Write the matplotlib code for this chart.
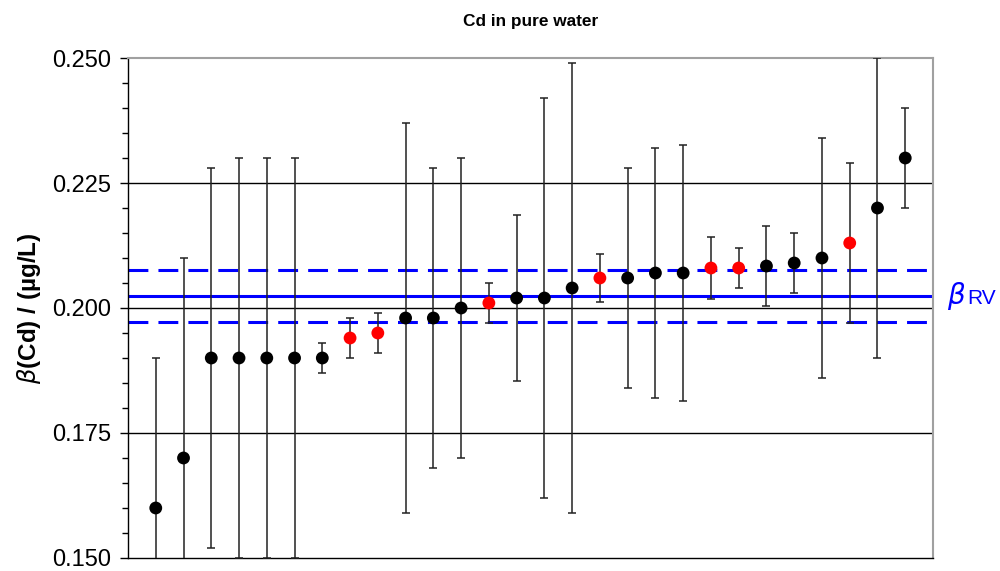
import matplotlib
matplotlib.use("Agg")
import matplotlib.pyplot as plt
from matplotlib.ticker import MultipleLocator, FormatStrFormatter

plt.rcParams['font.family'] = ['Liberation Sans', 'DejaVu Sans']

# Messwerte der Labore (sortiert) und erweiterte Unsicherheiten
values = [0.160, 0.170, 0.190, 0.190, 0.190, 0.190, 0.190, 0.194, 0.195, 0.198,
          0.198, 0.200, 0.201, 0.202, 0.202, 0.204, 0.206, 0.206, 0.207, 0.207,
          0.208, 0.208, 0.2084, 0.209, 0.210, 0.213, 0.220, 0.230]
uncert = [0.030, 0.040, 0.038, 0.040, 0.040, 0.040, 0.003, 0.004, 0.004, 0.039,
          0.030, 0.030, 0.004, 0.0166, 0.040, 0.045, 0.0048, 0.022, 0.025, 0.0257,
          0.0062, 0.004, 0.008, 0.006, 0.024, 0.016, 0.030, 0.010]
red_points = [8, 9, 13, 17, 21, 22, 26]  # 1-basierte Positionen der roten Punkte

ref_value = 0.2024
ref_uncert = 0.0052

fig = plt.figure(figsize=(10, 5.71), dpi=100)
ax = fig.add_axes([0.128, 0.0228, 0.805, 0.8756])

x = list(range(1, len(values) + 1))

# Gitterlinien
for g in [0.175, 0.200, 0.225]:
    ax.axhline(g, color='black', lw=1, zorder=1)

# Referenzwert mit Unsicherheit
ax.axhline(ref_value, color='#0000ff', lw=2.2, zorder=2)
ax.axhline(ref_value + ref_uncert, color='#0000ff', lw=2.2, linestyle=(0, (6.5, 3.3)), zorder=2)
ax.axhline(ref_value - ref_uncert, color='#0000ff', lw=2.2, linestyle=(0, (6.5, 3.3)), zorder=2)

# Fehlerbalken
ax.errorbar(x, values, yerr=uncert, fmt='none', ecolor='#222222', elinewidth=1.1,
            capsize=3, capthick=1.1, zorder=3)

colors = ['red' if i in red_points else 'black' for i in x]
ax.scatter(x, values, s=85, c=colors, zorder=4, edgecolors='none')

ax.set_xlim(0, 29)
ax.set_ylim(0.150, 0.250)
ax.yaxis.set_major_locator(MultipleLocator(0.025))
ax.yaxis.set_minor_locator(MultipleLocator(0.005))
ax.yaxis.set_major_formatter(FormatStrFormatter('%.3f'))
ax.set_xticks([])
ax.tick_params(axis='y', which='major', direction='out', length=6, width=1, labelsize=17, pad=6)
ax.tick_params(axis='y', which='minor', direction='out', length=4, width=1)

for side in ['top', 'right']:
    ax.spines[side].set_color('#a0a0a0')
    ax.spines[side].set_linewidth(1.5)
for side in ['left', 'bottom']:
    ax.spines[side].set_color('black')
    ax.spines[side].set_linewidth(1)

fig.text(0.5305, 0.963, 'Cd in pure water', fontsize=12.4, fontweight='bold',
         ha='center', va='center')
fig.text(0.029, 0.461, r'$\beta$' + '(Cd) / (µg/L)', rotation=90, fontsize=17.5,
         fontweight='bold', ha='center', va='center')

ax.text(29.5, ref_value, r'$\beta$', color='#0000ff', fontsize=20, ha='left', va='center')
ax.text(30.25, ref_value - 0.0006, 'RV', color='#0000ff', fontsize=15, ha='left', va='center')

fig.savefig('out.png', dpi=100)
